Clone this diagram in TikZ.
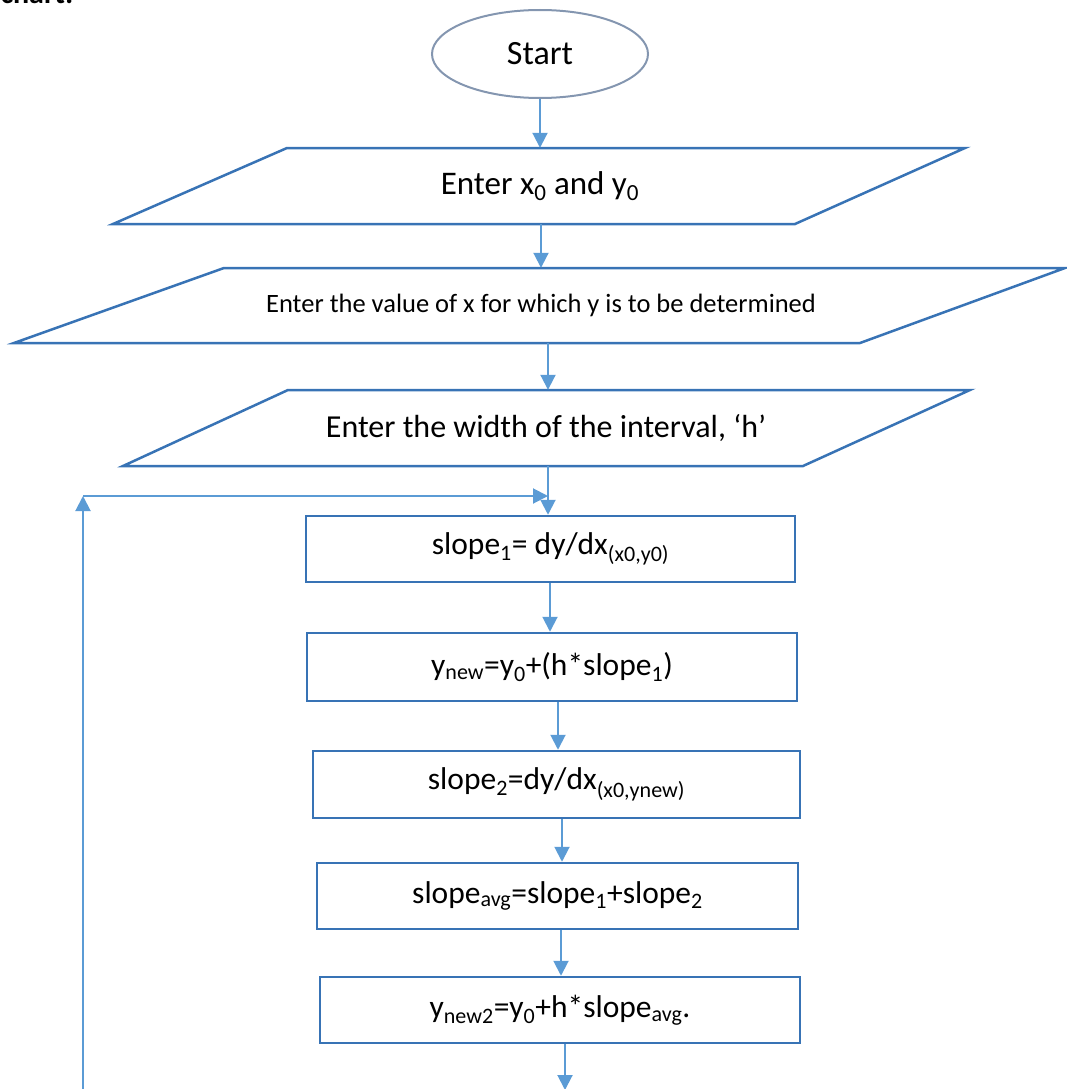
\documentclass[tikz,border=0pt]{standalone}
\usepackage{fontspec}
\setmainfont{Carlito}
\usetikzlibrary{arrows.meta,shapes.geometric,calc}
\definecolor{boxblue}{HTML}{3873B5}
\definecolor{arrblue}{HTML}{5B9BD5}
\definecolor{ellgray}{HTML}{8496B0}
\newcommand\sbs[1]{\textsubscript{#1}}
\begin{document}
\begin{tikzpicture}[x=1pt,y=-1pt,
  arr/.style={draw=arrblue, line width=2pt, -{Triangle[length=15pt,width=15pt]}},
  procbox/.style={draw=boxblue, line width=2.5pt, rectangle, inner sep=0pt, align=center, font=\fontsize{31.5}{38}\selectfont},
  iobox/.style={draw=boxblue, line width=2.5pt, line join=miter},
  iotext/.style={inner sep=0pt, align=center},
  startel/.style={draw=ellgray, line width=2pt, ellipse, inner sep=0pt, minimum width=216pt, minimum height=88pt, font=\fontsize{34}{40}\selectfont}
]
\useasboundingbox (0,0) rectangle (1067,1089);
\clip (0,0) rectangle (1067,1089);

\node[anchor=base west, font=\fontsize{30}{36}\selectfont\bfseries] (ttl) at (-3,4) {chart:};

\node[startel] (start) at (540,54) {Start};

\draw[iobox] (287,148) -- (965,148) -- (795,224) -- (113,224) -- cycle;
\node[iotext, minimum height=76pt, font=\fontsize{33}{40}\selectfont] (p1) at (540,186) {Enter x\sbs{0} and y\sbs{0}};

\draw[iobox] (224,268) -- (1065,268) -- (860,343) -- (14,343) -- cycle;
\node[iotext, minimum height=75pt, font=\fontsize{26.5}{32}\selectfont] (p2) at (541,305.5) {Enter the value of x for which y is to be determined};

\draw[iobox] (288,390) -- (970,390) -- (803,466) -- (123,466) -- cycle;
\node[iotext, minimum height=76pt, font=\fontsize{32}{38}\selectfont] (p3) at (546,428) {\raisebox{4pt}{Enter the width of the interval, ‘h’}};

\node[procbox, minimum width=489pt, minimum height=66pt] (b1) at (550.5,549) {slope\sbs{1}= dy/dx\sbs{(x0,y0)}};
\node[procbox, minimum width=490pt, minimum height=68pt] (b2) at (552,667) {y\sbs{new}=y\sbs{0}+(h*slope\sbs{1})};
\node[procbox, minimum width=487pt, minimum height=67pt] (b3) at (556.5,784.5) {slope\sbs{2}=dy/dx\sbs{(x0,ynew)}};
\node[procbox, minimum width=481pt, minimum height=66pt] (b4) at (557.5,896) {slope\sbs{avg}=slope\sbs{1}+slope\sbs{2}};
\node[procbox, minimum width=480pt, minimum height=66pt] (b5) at (560,1010) {y\sbs{new2}=y\sbs{0}+h*slope\sbs{avg}.};

% x positions of the vertical connectors
\coordinate (x1) at (540,0);
\coordinate (x2) at (541,0);
\coordinate (x3) at (548,0);
\coordinate (x4) at (550,0);
\coordinate (x5) at (558,0);
\coordinate (x6) at (562,0);
\coordinate (x7) at (561,0);
\coordinate (x8) at (565,0);

\coordinate (out) at (565,1090);
\coordinate (lb) at (83,1095);
\coordinate (lt) at (83,496);
\coordinate (lj) at (548,496);

\draw[arr] (x1 |- start.south) -- (x1 |- p1.north);
\draw[arr] (x2 |- p1.south) -- (x2 |- p2.north);
\draw[arr] (x3 |- p2.south) -- (x3 |- p3.north);
\draw[arr] (x3 |- p3.south) -- (x3 |- b1.north);
\draw[arr] (x4 |- b1.south) -- (x4 |- b2.north);
\draw[arr] (x5 |- b2.south) -- (x5 |- b3.north);
\draw[arr] (x6 |- b3.south) -- (x6 |- b4.north);
\draw[arr] (x7 |- b4.south) -- (x7 |- b5.north);
\draw[arr] (x8 |- b5.south) -- (out);
\draw[arr] (lb) -- (lt);
\draw[arr] (lt) -- (lj);
\end{tikzpicture}
\end{document}
